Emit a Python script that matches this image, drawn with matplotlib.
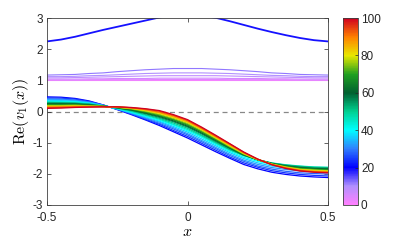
import numpy as np
import matplotlib
matplotlib.use("Agg")
import matplotlib.pyplot as plt
from matplotlib.colors import LinearSegmentedColormap, Normalize
from matplotlib.cm import ScalarMappable

plt.rcParams['font.family'] = ['Liberation Sans', 'DejaVu Sans']
plt.rcParams['mathtext.fontset'] = 'cm'

# sample positions along x
x_samples = [-0.50, -0.45, -0.40, -0.35, -0.30, -0.25, -0.20, -0.15, -0.10, -0.05, 0.00,
             0.05, 0.10, 0.15, 0.20, 0.25, 0.30, 0.35, 0.40, 0.45, 0.50]

# lower family: parameter values and curves
lower_params = [20, 24, 28, 32, 36, 40, 45, 50, 55, 60, 65, 70, 75, 80, 85, 90, 95, 100]
lower_curves = [
    [0.47, 0.46, 0.42, 0.34, 0.21, 0.06, -0.10, -0.27, -0.45, -0.65, -0.85, -1.07, -1.29, -1.50, -1.70, -1.84, -1.95, -2.02, -2.07, -2.10, -2.12],
    [0.44, 0.43, 0.40, 0.32, 0.21, 0.07, -0.08, -0.25, -0.41, -0.61, -0.80, -1.02, -1.24, -1.46, -1.65, -1.79, -1.90, -1.97, -2.02, -2.05, -2.07],
    [0.41, 0.40, 0.37, 0.31, 0.20, 0.08, -0.07, -0.22, -0.38, -0.56, -0.75, -0.97, -1.19, -1.41, -1.60, -1.75, -1.85, -1.92, -1.97, -1.99, -2.01],
    [0.39, 0.38, 0.35, 0.29, 0.20, 0.08, -0.05, -0.20, -0.34, -0.52, -0.71, -0.93, -1.15, -1.37, -1.56, -1.70, -1.80, -1.86, -1.91, -1.93, -1.95],
    [0.36, 0.35, 0.33, 0.28, 0.19, 0.09, -0.04, -0.17, -0.31, -0.48, -0.66, -0.88, -1.10, -1.32, -1.51, -1.65, -1.75, -1.81, -1.86, -1.88, -1.89],
    [0.33, 0.32, 0.31, 0.26, 0.18, 0.09, -0.02, -0.15, -0.28, -0.44, -0.62, -0.83, -1.06, -1.28, -1.47, -1.60, -1.70, -1.76, -1.80, -1.83, -1.84],
    [0.31, 0.30, 0.29, 0.25, 0.18, 0.10, 0.00, -0.12, -0.25, -0.41, -0.58, -0.79, -1.02, -1.24, -1.42, -1.55, -1.65, -1.71, -1.75, -1.78, -1.79],
    [0.29, 0.28, 0.27, 0.24, 0.18, 0.11, 0.02, -0.10, -0.22, -0.37, -0.54, -0.76, -0.99, -1.22, -1.41, -1.55, -1.66, -1.72, -1.76, -1.79, -1.80],
    [0.27, 0.27, 0.26, 0.23, 0.17, 0.12, 0.04, -0.07, -0.19, -0.33, -0.50, -0.72, -0.96, -1.19, -1.40, -1.55, -1.66, -1.73, -1.78, -1.81, -1.82],
    [0.25, 0.25, 0.24, 0.21, 0.17, 0.12, 0.05, -0.05, -0.16, -0.30, -0.47, -0.69, -0.93, -1.17, -1.39, -1.55, -1.67, -1.75, -1.80, -1.83, -1.84],
    [0.23, 0.23, 0.23, 0.20, 0.17, 0.13, 0.06, -0.03, -0.14, -0.27, -0.44, -0.66, -0.91, -1.15, -1.38, -1.55, -1.68, -1.76, -1.82, -1.85, -1.86],
    [0.21, 0.21, 0.21, 0.19, 0.17, 0.13, 0.08, -0.01, -0.11, -0.25, -0.41, -0.64, -0.89, -1.14, -1.37, -1.55, -1.68, -1.77, -1.83, -1.86, -1.88],
    [0.19, 0.19, 0.20, 0.18, 0.16, 0.14, 0.09, 0.01, -0.09, -0.22, -0.38, -0.61, -0.86, -1.12, -1.36, -1.54, -1.69, -1.78, -1.85, -1.88, -1.90],
    [0.17, 0.17, 0.18, 0.17, 0.16, 0.14, 0.10, 0.03, -0.06, -0.19, -0.35, -0.58, -0.84, -1.10, -1.35, -1.54, -1.69, -1.79, -1.86, -1.89, -1.91],
    [0.15, 0.16, 0.17, 0.16, 0.16, 0.14, 0.11, 0.05, -0.04, -0.17, -0.33, -0.56, -0.82, -1.08, -1.34, -1.54, -1.70, -1.80, -1.87, -1.91, -1.93],
    [0.14, 0.14, 0.16, 0.16, 0.16, 0.15, 0.12, 0.06, -0.02, -0.14, -0.30, -0.54, -0.80, -1.06, -1.32, -1.53, -1.70, -1.81, -1.89, -1.93, -1.94],
    [0.12, 0.13, 0.14, 0.15, 0.15, 0.15, 0.12, 0.08, 0.01, -0.12, -0.28, -0.52, -0.78, -1.04, -1.31, -1.53, -1.71, -1.82, -1.90, -1.94, -1.96],
    [0.10, 0.11, 0.13, 0.14, 0.15, 0.15, 0.13, 0.09, 0.03, -0.10, -0.26, -0.50, -0.76, -1.03, -1.30, -1.53, -1.71, -1.83, -1.91, -1.95, -1.97],
]

# middle family (near 1)
middle_params = [0, 2, 4, 6, 8, 10, 12]
middle_curves = [
    [1.00, 1.00, 1.00, 1.00, 1.00, 1.00, 1.00, 1.00, 1.00, 1.00, 1.00, 1.00, 1.00, 1.00, 1.00, 1.00, 1.00, 1.00, 1.00, 1.00, 1.00],
    [1.00, 1.00, 1.00, 1.00, 1.01, 1.01, 1.01, 1.01, 1.01, 1.01, 1.01, 1.01, 1.01, 1.01, 1.01, 1.01, 1.01, 1.00, 1.00, 1.00, 1.00],
    [1.01, 1.01, 1.01, 1.02, 1.02, 1.02, 1.02, 1.02, 1.03, 1.03, 1.03, 1.03, 1.03, 1.02, 1.02, 1.02, 1.02, 1.02, 1.01, 1.01, 1.01],
    [1.04, 1.04, 1.04, 1.05, 1.05, 1.06, 1.06, 1.06, 1.07, 1.07, 1.07, 1.07, 1.07, 1.06, 1.06, 1.06, 1.05, 1.05, 1.04, 1.04, 1.04],
    [1.08, 1.08, 1.09, 1.10, 1.11, 1.12, 1.13, 1.14, 1.15, 1.15, 1.15, 1.15, 1.15, 1.14, 1.13, 1.12, 1.11, 1.10, 1.09, 1.08, 1.08],
    [1.12, 1.12, 1.13, 1.15, 1.16, 1.18, 1.20, 1.22, 1.23, 1.24, 1.24, 1.24, 1.23, 1.22, 1.20, 1.18, 1.16, 1.15, 1.13, 1.12, 1.12],
    [1.17, 1.18, 1.19, 1.22, 1.24, 1.28, 1.31, 1.34, 1.36, 1.38, 1.38, 1.38, 1.36, 1.34, 1.31, 1.28, 1.24, 1.22, 1.19, 1.18, 1.17],
]

# top curve
top_param = 19
top_curve = [2.25, 2.31, 2.40, 2.51, 2.62, 2.72, 2.82, 2.92, 3.02, 3.08, 3.10,
             3.08, 3.01, 2.90, 2.78, 2.66, 2.55, 2.45, 2.36, 2.29, 2.25]

# colormap anchors (0, 10, ..., 100)
cmap_colors = ['#ff80ff', '#b090ff', '#0000ff', '#3080ff', '#00ffff', '#00d090',
               '#006030', '#20a020', '#e8e800', '#ff8000', '#d00020']

cmap = LinearSegmentedColormap.from_list('custom', cmap_colors)
norm = Normalize(vmin=0, vmax=100)

fig = plt.figure(figsize=(4.07, 2.44), dpi=100)
ax = fig.add_axes([0.1155, 0.16, 0.6905, 0.766])

ax.axhline(0, color='#888888', lw=0.9, ls=(0, (4, 3)), zorder=1)

for p, c in zip(middle_params, middle_curves):
    ax.plot(x_samples, c, color=cmap(norm(p)), lw=0.8, zorder=2)

ax.plot(x_samples, top_curve, color=cmap(norm(top_param)), lw=1.3, zorder=2)

for p, c in zip(lower_params, lower_curves):
    ax.plot(x_samples, c, color=cmap(norm(p)), lw=0.9, zorder=3)

ax.set_xlim(-0.5, 0.5)
ax.set_ylim(-3, 3)
ax.set_xticks([-0.5, 0, 0.5])
ax.set_xticklabels(['-0.5', '0', '0.5'])
ax.set_yticks([-3, -2, -1, 0, 1, 2, 3])
ax.set_yticklabels(['-3', '-2', '-1', '0', '1', '2', '3'])
ax.tick_params(direction='in', length=3, width=0.5, labelsize=8.5, colors='#262626',
               top=True, right=True)
ax.tick_params(axis='x', pad=5)
ax.tick_params(axis='y', pad=3)
for s in ax.spines.values():
    s.set_color('#404040')
    s.set_linewidth(0.6)

ax.set_xlabel(r'$x$', fontsize=11.5, labelpad=0)
ax.set_ylabel(r'$\mathrm{Re}(v_1(x))$', fontsize=11.5, labelpad=1)

cax = fig.add_axes([0.843, 0.16, 0.037, 0.766])
sm = ScalarMappable(norm=norm, cmap=cmap)
cb = fig.colorbar(sm, cax=cax)
cb.set_ticks([0, 20, 40, 60, 80, 100])
cb.ax.tick_params(direction='in', length=2, width=0.5, labelsize=8.5, colors='#262626', pad=2)
cb.outline.set_edgecolor('#404040')
cb.outline.set_linewidth(0.6)

fig.savefig('out.png', dpi=100)
